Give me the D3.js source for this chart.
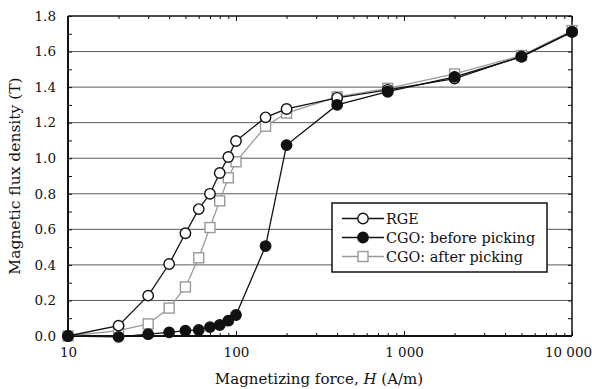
<!DOCTYPE html>
<html>
<head>
<meta charset="utf-8">
<script src="https://cdn.jsdelivr.net/npm/d3@7"></script>
<style>
  body { margin: 0; background: #fff; }
  svg { display: block; font-family: "DejaVu Serif", serif; }
</style>
</head>
<body>
<svg id="chart"></svg>
<script>
// magnetizing force H (A/m)
const H = [10, 20, 30, 40, 50, 60, 70, 80, 90, 100, 150, 200, 400, 800, 2000, 5000, 10000];
// flux density B (T) per sample
const rge       = [0.00, 0.058, 0.227, 0.405, 0.578, 0.714, 0.800, 0.917, 1.007, 1.097, 1.230, 1.277, 1.340, 1.385, 1.448, 1.573, 1.711];
const cgoBefore = [0.00, -0.005, 0.010, 0.020, 0.030, 0.034, 0.050, 0.062, 0.086, 0.118, 0.506, 1.074, 1.300, 1.374, 1.458, 1.570, 1.711];
const cgoAfter  = [0.00, 0.030, 0.068, 0.157, 0.276, 0.440, 0.610, 0.760, 0.890, 0.980, 1.180, 1.254, 1.345, 1.393, 1.474, 1.578, 1.718];

const xMajor = [10, 100, 1000, 10000];
const xMajorLabels = ["10", "100", "1 000", "10 000"];
const xMinor = [20, 30, 40, 50, 60, 70, 80, 90, 200, 300, 400, 500, 600, 700, 800, 900,
                2000, 3000, 4000, 5000, 6000, 7000, 8000, 9000];
const yMajor = [0, 0.2, 0.4, 0.6, 0.8, 1.0, 1.2, 1.4, 1.6, 1.8];
const yMinor = [0.1, 0.3, 0.5, 0.7, 0.9, 1.1, 1.3, 1.5, 1.7];
const legendNames = ["RGE", "CGO: before picking", "CGO: after picking"];

const svgWidth = 592, svgHeight = 389;
const margin = { top: 16, right: 20, bottom: 53, left: 68 };
const width = svgWidth - margin.left - margin.right;
const height = svgHeight - margin.top - margin.bottom;

const svg = d3.select("#chart")
    .attr("width", svgWidth)
    .attr("height", svgHeight);

const g = svg.append("g")
    .attr("transform", "translate(" + margin.left + "," + margin.top + ")");

const x = d3.scaleLog().domain([10, 10000]).range([0, width]);
const y = d3.scaleLinear().domain([0, 1.8]).range([height, 0]);

// gridlines
g.append("g")
    .selectAll("line")
    .data(yMajor.slice(1, -1))
    .join("line")
    .attr("x1", 0).attr("x2", width)
    .attr("y1", d => y(d)).attr("y2", d => y(d))
    .attr("stroke", "#5a5a5a")
    .attr("stroke-width", 1);

// bottom axis
const xb = g.append("g")
    .attr("transform", "translate(0," + height + ")")
    .call(d3.axisBottom(x).tickValues(xMajor).tickSize(-5).tickPadding(11)
        .tickFormat((d, i) => xMajorLabels[i]));
xb.select(".domain").remove();
xb.selectAll("text").attr("font-size", 13.5).attr("fill", "#111")
    .attr("font-family", "DejaVu Serif");
xb.selectAll(".tick").filter(d => d === 10000).select("text").attr("dx", -4);
g.append("g")
    .attr("transform", "translate(0," + height + ")")
    .call(d3.axisBottom(x).tickValues(xMinor).tickSize(-3).tickFormat(""))
    .select(".domain").remove();

// top axis
const xt = g.append("g")
    .call(d3.axisTop(x).tickValues(xMajor).tickSize(-5).tickFormat(""));
xt.select(".domain").remove();
g.append("g")
    .call(d3.axisTop(x).tickValues(xMinor).tickSize(-3).tickFormat(""))
    .select(".domain").remove();

// left axis
const yl = g.append("g")
    .call(d3.axisLeft(y).tickValues(yMajor).tickSize(-4).tickPadding(12)
        .tickFormat(d3.format(".1f")));
yl.select(".domain").remove();
yl.selectAll("text").attr("font-size", 13.5).attr("fill", "#111")
    .attr("font-family", "DejaVu Serif");
g.append("g")
    .call(d3.axisLeft(y).tickValues(yMinor).tickSize(-4).tickFormat(""))
    .select(".domain").remove();

// right axis
g.append("g")
    .attr("transform", "translate(" + width + ",0)")
    .call(d3.axisRight(y).tickValues(yMajor.concat(yMinor)).tickSize(-4).tickFormat(""))
    .select(".domain").remove();

g.selectAll(".tick line").attr("stroke", "#111");

// frame
g.append("line").attr("x1", 0).attr("x2", 0).attr("y1", 0).attr("y2", height)
    .attr("stroke", "#111").attr("stroke-width", 2);
g.append("line").attr("x1", 0).attr("x2", width).attr("y1", height).attr("y2", height)
    .attr("stroke", "#111").attr("stroke-width", 2);
g.append("line").attr("x1", 0).attr("x2", width).attr("y1", 0).attr("y2", 0)
    .attr("stroke", "#111").attr("stroke-width", 1.5);
g.append("line").attr("x1", width).attr("x2", width).attr("y1", 0).attr("y2", height)
    .attr("stroke", "#111").attr("stroke-width", 1.5);

// series
const series = [
    { name: legendNames[2], values: cgoAfter, line: "#9a9a9a", shape: "square", fill: "#fff", stroke: "#9a9a9a" },
    { name: legendNames[0], values: rge, line: "#111", shape: "circle", fill: "#fff", stroke: "#111" },
    { name: legendNames[1], values: cgoBefore, line: "#111", shape: "circle", fill: "#111", stroke: "#111" }
];

const line = d3.line()
    .x(d => x(d[0]))
    .y(d => y(d[1]));

const drawMarker = (sel, s) => {
    if (s.shape === "circle") {
        sel.append("circle").attr("r", 5.2)
            .attr("fill", s.fill).attr("stroke", s.stroke).attr("stroke-width", 1.4);
    } else {
        sel.append("rect").attr("x", -5).attr("y", -5).attr("width", 10).attr("height", 10)
            .attr("fill", s.fill).attr("stroke", s.stroke).attr("stroke-width", 1.4);
    }
};

series.forEach(s => {
    const pts = H.map((h, i) => [h, s.values[i]]);
    g.append("path")
        .datum(pts)
        .attr("fill", "none")
        .attr("stroke", s.line)
        .attr("stroke-width", 1.3)
        .attr("d", line);
    g.append("g")
        .selectAll("g")
        .data(pts)
        .join("g")
        .attr("transform", d => "translate(" + x(d[0]) + "," + y(d[1]) + ")")
        .each(function () { drawMarker(d3.select(this), s); });
});

// legend
const legendOrder = [series[1], series[2], series[0]];
const lg = svg.append("g").attr("transform", "translate(332,203)");
lg.append("rect")
    .attr("width", 215).attr("height", 69)
    .attr("fill", "#fff").attr("stroke", "#111").attr("stroke-width", 1.5);
legendOrder.forEach((s, i) => {
    const row = lg.append("g").attr("transform", "translate(0," + (15.5 + i * 19) + ")");
    row.append("line").attr("x1", 10).attr("x2", 52)
        .attr("stroke", s.line).attr("stroke-width", 1.3);
    const m = row.append("g").attr("transform", "translate(31,0)");
    drawMarker(m, s);
    row.append("text").attr("x", 54).attr("dy", "0.35em")
        .attr("font-size", 14.4).attr("fill", "#111")
        .text(s.name);
});

// axis titles
const xt2 = svg.append("text")
    .attr("x", margin.left + width / 2 - 1)
    .attr("y", 384)
    .attr("text-anchor", "middle")
    .attr("font-size", 15)
    .attr("fill", "#111");
xt2.append("tspan").text("Magnetizing force, ");
xt2.append("tspan").attr("font-style", "italic").text("H");
xt2.append("tspan").text(" (A/m)");

svg.append("text")
    .attr("transform", "translate(15," + (margin.top + height / 2) + ") rotate(-90)")
    .attr("text-anchor", "middle")
    .attr("dy", "0.35em")
    .attr("font-size", 15.5)
    .attr("fill", "#111")
    .text("Magnetic flux density (T)");
</script>
</body>
</html>
